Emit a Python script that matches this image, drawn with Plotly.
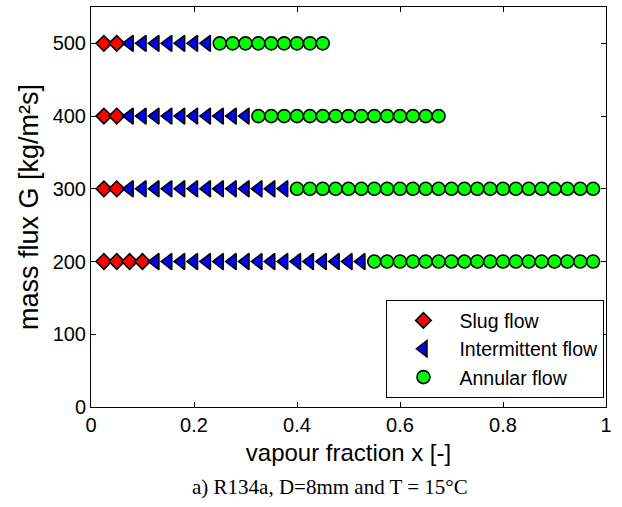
import plotly.graph_objects as go

# data: vapour fraction x for each flow regime, per mass flux G
slug_x = {200: [0.025, 0.05, 0.075, 0.1], 300: [0.025, 0.05], 400: [0.025, 0.05], 500: [0.025, 0.05]}
inter_range = {200: (0.125, 0.525), 300: (0.075, 0.375), 400: (0.075, 0.3), 500: (0.075, 0.225)}
annular_range = {200: (0.55, 0.975), 300: (0.4, 0.975), 400: (0.325, 0.675), 500: (0.25, 0.45)}
step = 0.025
x_ticks = [0, 0.2, 0.4, 0.6, 0.8, 1]
y_ticks = [0, 100, 200, 300, 400, 500]
x_labels = ["0", "0.2", "0.4", "0.6", "0.8", "1"]


def seq(a, b):
    n = int(round((b - a) / step))
    return [round(a + i * step, 4) for i in range(n + 1)]


def collect(d, is_range):
    xs, ys = [], []
    for g, v in d.items():
        vals = seq(*v) if is_range else v
        xs += vals
        ys += [g] * len(vals)
    return xs, ys


sx, sy = collect(slug_x, False)
ix, iy = collect(inter_range, True)
ax, ay = collect(annular_range, True)

line = dict(color="black", width=1.6)
fig = go.Figure()
fig.add_trace(go.Scatter(x=sx, y=sy, mode="markers", name="Slug flow",
                         marker=dict(symbol="diamond", size=12, color="#ff0000", line=line)))
fig.add_trace(go.Scatter(x=ix, y=iy, mode="markers", name="Intermittent flow",
                         marker=dict(symbol="triangle-left", size=14, color="#0000ff", line=line)))
fig.add_trace(go.Scatter(x=ax, y=ay, mode="markers", name="Annular flow",
                         marker=dict(symbol="circle", size=13, color="#00ff00", line=line)))

axis_common = dict(showline=True, linecolor="black", linewidth=1, mirror="ticks",
                   ticks="inside", ticklen=5, tickcolor="black", showgrid=False, zeroline=False,
                   tickfont=dict(family="Liberation Sans, Arial", size=20, color="black"))

fig.update_layout(
    width=622, height=507,
    margin=dict(l=91, r=16, t=7, b=100),
    paper_bgcolor="white", plot_bgcolor="white",
    font=dict(family="Liberation Sans, Arial", color="black"),
    xaxis=dict(range=[0, 1], tickvals=x_ticks, ticktext=x_labels,
               title=dict(text="vapour fraction x [-]", font=dict(size=24), standoff=9),
               **axis_common),
    yaxis=dict(range=[0, 550], tickvals=y_ticks,
               title=dict(text="mass flux G [kg/m²s]", font=dict(size=27), standoff=6),
               **axis_common),
    legend=dict(x=0.997, y=0.022, xanchor="right", yanchor="bottom",
                bordercolor="black", borderwidth=1, bgcolor="white", itemwidth=62,
                font=dict(size=19.5, color="black"), tracegroupgap=0),
    annotations=[dict(text="a) R134a, D=8mm and T = 15°C", xref="paper", yref="paper",
                      x=0.464, y=-0.2, xanchor="center", yanchor="middle", showarrow=False,
                      font=dict(family="Liberation Serif, Times New Roman", size=21, color="black"))],
)

fig.write_html("out.html", config={"displayModeBar": False},
               post_script="document.body.style.margin='0';")
